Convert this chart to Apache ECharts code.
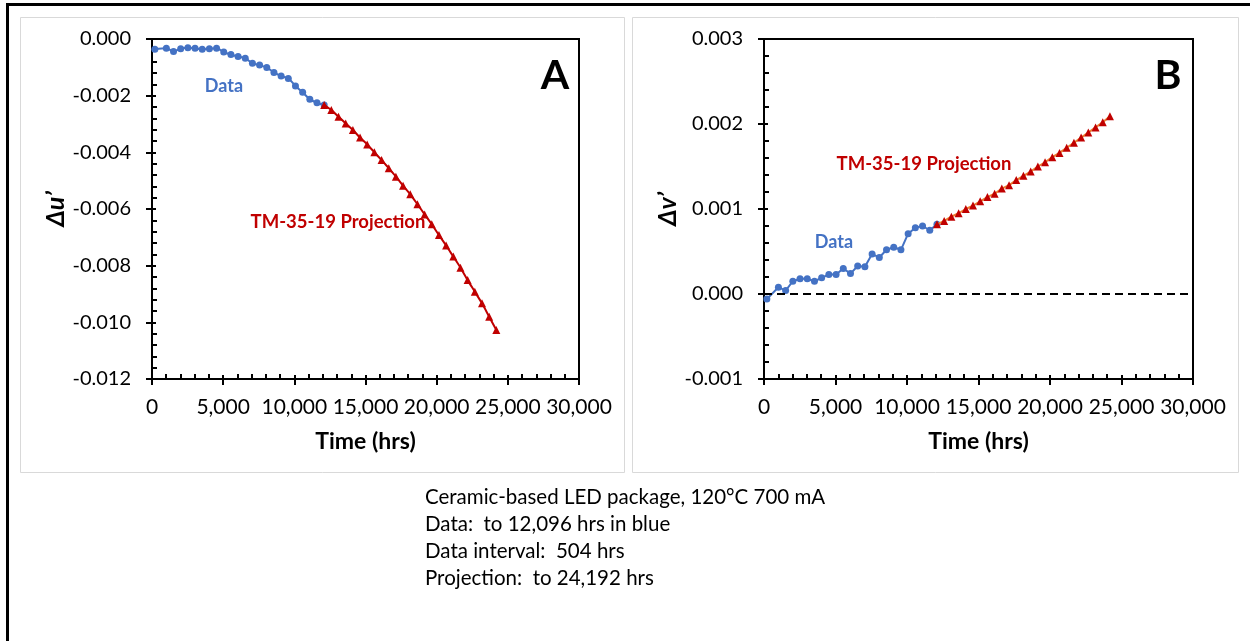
<!DOCTYPE html>
<html>
<head>
<meta charset="utf-8">
<script src="https://cdn.jsdelivr.net/npm/echarts@6/dist/echarts.min.js"></script>
<style>
  html, body { margin: 0; padding: 0; background: #fff; }
  #main { width: 1250px; height: 641px; }
</style>
</head>
<body>
<div id="main"></div>
<script>
// time stamps (hrs)
var dataTimes = [200, 1008, 1512, 2016, 2520, 3024, 3528, 4032, 4536, 5040, 5544, 6048,
  6552, 7056, 7560, 8064, 8568, 9072, 9576, 10080, 10584, 11088, 11592, 12096]
var projTimes = [12096, 12600, 13104, 13608, 14112, 14616, 15120, 15624, 16128, 16632,
  17136, 17640, 18144, 18648, 19152, 19656, 20160, 20664, 21168, 21672, 22176, 22680,
  23184, 23688, 24192]

// panel A : delta u'
var duData = [-0.00036, -0.00033, -0.00044, -0.00034, -0.00031, -0.00033, -0.00036, -0.00034,
  -0.00033, -0.00046, -0.00055, -0.00062, -0.00068, -0.00086, -0.00092, -0.00101, -0.00118,
  -0.00131, -0.00139, -0.00166, -0.00188, -0.00213, -0.00225, -0.00233]
var duProj = [-0.00233, -0.00251, -0.00274, -0.00298, -0.00321, -0.00348, -0.00372, -0.00400,
  -0.00427, -0.00456, -0.00486, -0.00518, -0.00548, -0.00583, -0.00619, -0.00654, -0.00692,
  -0.00729, -0.00768, -0.00807, -0.00851, -0.00892, -0.00933, -0.00980, -0.01027]

// panel B : delta v'
var dvData = [-0.00006, 0.00008, 0.00004, 0.00015, 0.00018, 0.00018, 0.00015, 0.00019,
  0.00023, 0.00023, 0.00030, 0.00024, 0.00033, 0.00032, 0.00047, 0.00043, 0.00052,
  0.00055, 0.00052, 0.00071, 0.00078, 0.00080, 0.00075, 0.00082]
var dvProj = [0.00082, 0.00086, 0.00091, 0.00095, 0.00100, 0.00104, 0.00109, 0.00114,
  0.00118, 0.00124, 0.00128, 0.00134, 0.00139, 0.00144, 0.00150, 0.00155, 0.00161,
  0.00166, 0.00172, 0.00178, 0.00184, 0.00190, 0.00196, 0.00202, 0.00209]

var notes = [
  'Ceramic-based LED package, 120°C 700 mA',
  'Data:  to 12,096 hrs in blue',
  'Data interval:  504 hrs',
  'Projection:  to 24,192 hrs'
]

var font = 'Lato, "Liberation Sans", sans-serif'
var blue = '#4472C4'
var red = '#C00000'
var orange = '#ED7D31'

function pairs(ts, vs) {
  return ts.map(function (t, i) { return [t, vs[i]] })
}

function xAxes(g) {
  var main = {
    type: 'value', gridIndex: g, min: 0, max: 30000, interval: 5000, position: 'bottom',
    axisLine: { show: true, onZero: false, lineStyle: { color: '#000', width: 2 } },
    axisTick: { show: true, inside: true, length: 4, lineStyle: { color: '#000', width: 2 } },
    minorTick: { show: true, splitNumber: 5, length: 5, lineStyle: { color: '#000', width: 2 } },
    splitLine: { show: false },
    axisLabel: {
      margin: 18, color: '#000', fontSize: 21, fontFamily: font,
      formatter: function (v) { return v.toLocaleString('en-US') }
    },
    name: 'Time (hrs)', nameLocation: 'middle', nameGap: 51,
    nameTextStyle: { color: '#000', fontSize: 23, fontWeight: 'bold', fontFamily: font }
  }
  // second copy only for the outward half of the major ticks
  var outer = {
    type: 'value', gridIndex: g, min: 0, max: 30000, interval: 5000, position: 'bottom',
    axisLine: { show: false, onZero: false },
    axisTick: { show: true, inside: false, length: 6, lineStyle: { color: '#000', width: 2 } },
    axisLabel: { show: false }, splitLine: { show: false }
  }
  return [main, outer]
}

function yAxes(g, min, max, step, name) {
  var main = {
    type: 'value', gridIndex: g, min: min, max: max, interval: step, position: 'left',
    axisLine: { show: true, onZero: false, lineStyle: { color: '#000', width: 2 } },
    axisTick: { show: true, inside: true, length: 4, lineStyle: { color: '#000', width: 2 } },
    minorTick: { show: true, splitNumber: 5, length: 5, lineStyle: { color: '#000', width: 2 } },
    splitLine: { show: false },
    axisLabel: {
      margin: 21, color: '#000', fontSize: 20, fontFamily: font,
      formatter: function (v) { return (Math.abs(v) < 1e-9 ? 0 : v).toFixed(3) }
    },
    name: name, nameLocation: 'middle', nameGap: 84,
    nameTextStyle: { color: '#000', fontSize: 25, fontWeight: 'bold', fontStyle: 'italic', fontFamily: font }
  }
  var outer = {
    type: 'value', gridIndex: g, min: min, max: max, interval: step, position: 'left',
    axisLine: { show: false, onZero: false },
    axisTick: { show: true, inside: false, length: 6, lineStyle: { color: '#000', width: 2 } },
    axisLabel: { show: false }, splitLine: { show: false }
  }
  return [main, outer]
}

function label(txt, x, y, color, size, extra) {
  var style = {
    text: txt, x: x, y: y, fill: color, align: 'center', verticalAlign: 'middle',
    fontSize: size, fontWeight: 'bold', fontFamily: font
  }
  if (extra) for (var k in extra) style[k] = extra[k]
  return { type: 'text', z: 10, style: style }
}

var myChart = echarts.init(document.getElementById('main'))

var graphics = [
  { type: 'rect', z: 0, shape: { x: 7.5, y: 4.5, width: 1400, height: 800 },
    style: { fill: 'transparent', stroke: '#000', lineWidth: 3 } },
  { type: 'rect', z: 0, shape: { x: 20.5, y: 17.5, width: 604, height: 455 },
    style: { fill: 'transparent', stroke: '#d9d9d9', lineWidth: 1 } },
  { type: 'rect', z: 0, shape: { x: 632.5, y: 17.5, width: 606, height: 455 },
    style: { fill: 'transparent', stroke: '#d9d9d9', lineWidth: 1 } },
  label('A', 555, 76, '#000', 41),
  label('B', 1168, 76, '#000', 41),
  label('Data', 224, 86, blue, 18),
  label('TM-35-19 Projection', 338, 222, red, 18.5),
  label('Data', 834, 242, blue, 18),
  label('TM-35-19 Projection', 924, 164, red, 18.5)
]
notes.forEach(function (t, i) {
  graphics.push(label(t, 425, 497 + i * 27.2, '#000', 20.5, { align: 'left', fontWeight: 'normal' }))
})

var option = {
  animation: false,
  backgroundColor: '#fff',
  grid: [
    { left: 152, top: 39, width: 427, height: 340, show: true, borderColor: '#000', borderWidth: 2, backgroundColor: 'transparent' },
    { left: 764, top: 39, width: 429, height: 340, show: true, borderColor: '#000', borderWidth: 2, backgroundColor: 'transparent' }
  ],
  xAxis: xAxes(0).concat(xAxes(1)),
  yAxis: yAxes(0, -0.012, 0, 0.002, 'Δu’').concat(yAxes(1, -0.001, 0.003, 0.001, 'Δv’')),
  graphic: graphics,
  series: [
    {
      name: 'Data A', type: 'line', xAxisIndex: 0, yAxisIndex: 0,
      data: pairs(dataTimes, duData), smooth: 0.3,
      symbol: 'circle', symbolSize: 7, z: 3,
      itemStyle: { color: blue }, lineStyle: { color: blue, width: 2 }
    },
    {
      name: 'Projection A', type: 'line', xAxisIndex: 0, yAxisIndex: 0,
      data: pairs(projTimes, duProj), smooth: 0.3,
      symbol: 'triangle', symbolSize: 8, z: 4,
      itemStyle: { color: red }, lineStyle: { color: red, width: 2 }
    },
    {
      name: 'Data B', type: 'line', xAxisIndex: 2, yAxisIndex: 2,
      data: pairs(dataTimes, dvData),
      symbol: 'circle', symbolSize: 7, z: 3,
      itemStyle: { color: blue }, lineStyle: { color: blue, width: 2 },
      markLine: {
        silent: true, symbol: 'none', label: { show: false },
        lineStyle: { color: '#000', type: [8, 5], width: 2 },
        data: [{ yAxis: 0 }]
      }
    },
    {
      name: 'Projection B', type: 'line', xAxisIndex: 2, yAxisIndex: 2,
      data: pairs(projTimes, dvProj),
      symbol: 'triangle', symbolSize: 8, z: 4,
      itemStyle: { color: red }, lineStyle: { color: orange, width: 2 }
    }
  ]
}
myChart.setOption(option)
</script>
</body>
</html>
